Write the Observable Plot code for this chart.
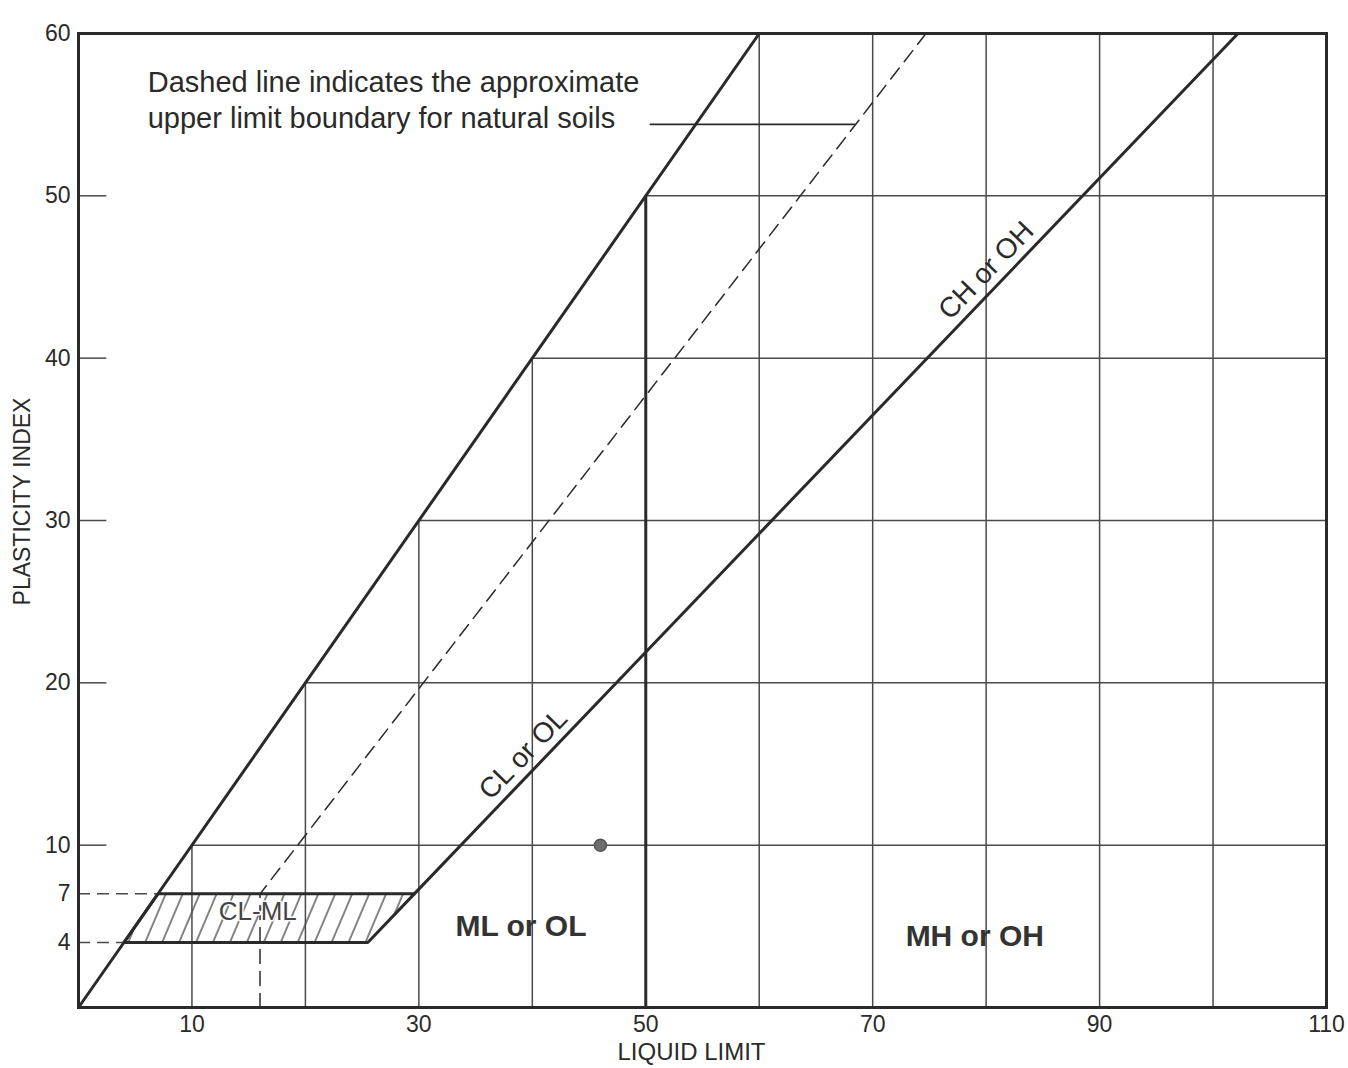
<!DOCTYPE html>
<html>
<head>
<meta charset="utf-8">
<script src="https://cdn.jsdelivr.net/npm/d3@7"></script>
<script src="https://cdn.jsdelivr.net/npm/@observablehq/plot@0.6"></script>
<style>
  html, body { margin: 0; padding: 0; background: #fff; }
  #chart { width: 1348px; height: 1068px; }
</style>
</head>
<body>
<div id="chart"></div>
<script>
// ---- data ----
const xTicks = [10, 30, 50, 70, 90, 110];
const yTicks = [4, 7, 10, 20, 30, 40, 50, 60];

// vertical grid lines: liquid limit and the plasticity index where they stop
const gridX = [
  {ll: 10, top: 10}, {ll: 20, top: 20}, {ll: 30, top: 30}, {ll: 40, top: 40},
  {ll: 60, top: 60}, {ll: 70, top: 60}, {ll: 80, top: 60}, {ll: 90, top: 60}, {ll: 100, top: 60}
];
// horizontal grid lines: plasticity index and the liquid limit where they start
const gridY = [
  {pi: 10, start: 10}, {pi: 20, start: 20}, {pi: 30, start: 30}, {pi: 40, start: 40}, {pi: 50, start: 50}
];
const solidTicks = [10, 20, 30, 40, 50];
const dashedTicks = [{pi: 7, end: 7}, {pi: 4, end: 4}];

// boundary lines
const limitLine = [{ll: 0, pi: 0}, {ll: 60, pi: 60}];          // PI = LL
const aLine = [{ll: 29.6, pi: 7}, {ll: 102.2, pi: 60}];         // A-line
const uLine = [{ll: 16, pi: 0}, {ll: 16, pi: 7}, {ll: 74.7, pi: 60}]; // U-line (dashed)
const llFifty = [{ll: 50, top: 50}];
const clmlZone = [{ll: 4, pi: 4}, {ll: 7, pi: 7}, {ll: 29.6, pi: 7}, {ll: 25.5, pi: 4}, {ll: 4, pi: 4}];
const leader = [{ll: 50.4, pi: 54.4}, {ll: 68.4, pi: 54.4}];

// sample point
const sample = [{ll: 46, pi: 10}];

// labels
const zoneLabels = [
  {ll: 39.0, pi: 5.0, text: "ML or OL"},
  {ll: 79.0, pi: 4.4, text: "MH or OH"}
];
const lineLabels = [
  {ll: 39.2, pi: 15.6, text: "CL or OL"},
  {ll: 80.0, pi: 45.4, text: "CH or OH"}
];
const hatchLabel = [{ll: 15.8, pi: 5.9, text: "CL-ML"}];
const note = [{ll: 6.1, pi: 56.0, text: "Dashed line indicates the approximate\nupper limit boundary for natural soils"}];

const ink = "#2a2a2a";
const gridInk = "#4a4a4a";

const chart = Plot.plot({
  width: 1348,
  height: 1068,
  marginLeft: 78,
  marginRight: 22,
  marginTop: 33,
  marginBottom: 61,
  style: {fontFamily: "'Liberation Sans', Arial, sans-serif", fontSize: "23px", color: ink, background: "white"},
  x: {domain: [0, 110]},
  y: {domain: [0, 60]},
  marks: [
    Plot.axisX({ticks: xTicks, tickSize: 0, tickPadding: 8, label: null, fontSize: 23}),
    Plot.axisY({ticks: yTicks, tickSize: 0, tickPadding: 8, label: null, fontSize: 23}),
    // grid
    Plot.ruleX(gridX, {x: "ll", y1: 0, y2: "top", stroke: gridInk, strokeWidth: 1.5}),
    Plot.ruleY(gridY, {y: "pi", x1: "start", x2: 110, stroke: gridInk, strokeWidth: 1.5}),
    // inner ticks
    Plot.ruleY(solidTicks, {y: d => d, x1: 0, x2: 2.5, stroke: gridInk, strokeWidth: 1.5}),
    Plot.ruleY(dashedTicks, {y: "pi", x1: 0, x2: "end", stroke: gridInk, strokeWidth: 1.5, strokeDasharray: "12,7"}),
    // CL-ML hatched zone
    Plot.line(clmlZone, {x: "ll", y: "pi", fill: "url(#hatch)", stroke: ink, strokeWidth: 3, strokeLinejoin: "miter"}),
    // U-line (dashed)
    Plot.line(uLine, {x: "ll", y: "pi", stroke: ink, strokeWidth: 1.5, strokeDasharray: "14,8"}),
    // boundaries
    Plot.line(limitLine, {x: "ll", y: "pi", stroke: ink, strokeWidth: 3}),
    Plot.line(aLine, {x: "ll", y: "pi", stroke: ink, strokeWidth: 3}),
    Plot.ruleX(llFifty, {x: "ll", y1: 0, y2: "top", stroke: ink, strokeWidth: 3}),
    Plot.frame({stroke: ink, strokeWidth: 3}),
    // annotation
    Plot.line(leader, {x: "ll", y: "pi", stroke: ink, strokeWidth: 1.6}),
    Plot.text(note, {x: "ll", y: "pi", text: "text", textAnchor: "start", lineAnchor: "middle", lineHeight: 1.24, fontSize: 29, fill: ink}),
    // sample point
    Plot.dot(sample, {x: "ll", y: "pi", r: 6, fill: "#6e6e6e", stroke: "#555"}),
    // labels
    Plot.text(zoneLabels, {x: "ll", y: "pi", text: "text", fontSize: 30, fontWeight: "bold", fill: "#333"}),
    Plot.text(lineLabels, {x: "ll", y: "pi", text: "text", fontSize: 28, rotate: -46, fill: ink}),
    Plot.text(hatchLabel, {x: "ll", y: "pi", text: "text", fontSize: 26, fill: "#444", stroke: "white", strokeWidth: 3, paintOrder: "stroke"}),
    // axis titles
    Plot.text(["LIQUID LIMIT"], {frameAnchor: "bottom", dx: -11, dy: 45, lineAnchor: "middle", fontSize: 24, fill: ink}),
    Plot.text(["PLASTICITY INDEX"], {frameAnchor: "left", dx: -56, dy: -19, rotate: -90, textAnchor: "middle", lineAnchor: "middle", fontSize: 23, fill: ink})
  ]
});

// hatch pattern definition (transparent background so grid lines show through)
const svg = chart.tagName.toLowerCase() === "svg" ? chart : chart.querySelector("svg");
const defs = d3.create("svg:defs");
const pat = defs.append("pattern")
  .attr("id", "hatch")
  .attr("patternUnits", "userSpaceOnUse")
  .attr("width", 15.6)
  .attr("height", 15.6)
  .attr("patternTransform", "rotate(23)");
pat.append("line").attr("x1", 2).attr("y1", 0).attr("x2", 2).attr("y2", 15.6)
  .attr("stroke", "#444").attr("stroke-width", 1.3);
svg.insertBefore(defs.node(), svg.firstChild);

document.getElementById("chart").appendChild(chart);
</script>
</body>
</html>
